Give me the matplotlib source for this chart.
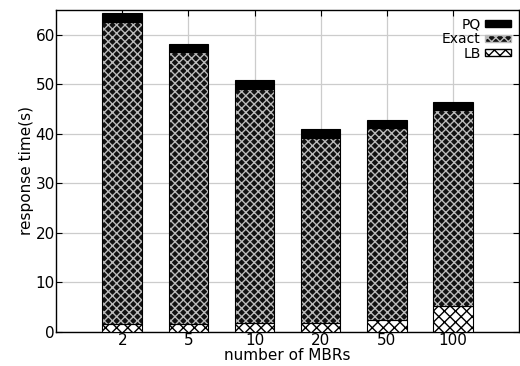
import matplotlib
matplotlib.use("Agg")
import matplotlib.pyplot as plt
from matplotlib.patches import Patch
import numpy as np

plt.rcParams['font.family'] = ['DejaVu Sans']
plt.rcParams['hatch.linewidth'] = 1.0

mbrs = ["2", "5", "10", "20", "50", "100"]
lb = [1.55, 1.55, 1.8, 1.8, 2.5, 5.3]
exact_top = [62.5, 56.4, 49.1, 39.2, 41.2, 44.7]
pq_top = [64.4, 58.1, 50.9, 41.0, 42.8, 46.5]

lb = np.array(lb)
exact = np.array(exact_top) - lb
pq = np.array(pq_top) - np.array(exact_top)
x = np.arange(1, len(mbrs) + 1)
w = 0.6

fig = plt.figure(figsize=(5.2, 3.66), dpi=100)
ax = fig.add_axes([0.108, 0.093, 0.89, 0.88])

ax.bar(x, lb, w, color="white", edgecolor="black", hatch="xxx", lw=0.8, zorder=3)
ax.bar(x, exact, w, bottom=lb, color="#111111", edgecolor="#bbbbbb", hatch="xxxx", lw=0, zorder=3)
ax.bar(x, exact, w, bottom=lb, fill=False, edgecolor="black", lw=0.8, zorder=4)
ax.bar(x, pq, w, bottom=lb + exact, color="black", edgecolor="black", lw=0.8, zorder=3)

# legend proxies, in the order shown
handles = [Patch(facecolor="black", edgecolor="black", label="PQ"),
           Patch(facecolor="#111111", edgecolor="#bbbbbb", hatch="xxxx", label="Exact"),
           Patch(facecolor="white", edgecolor="black", hatch="xxx", label="LB")]
ax.legend(handles=handles, loc="upper right", markerfirst=False, frameon=False,
          fontsize=10, handlelength=1.9, handleheight=0.4, labelspacing=0.05,
          handletextpad=0.3, borderaxespad=0.15)

ax.set_xlim(0, 7)
ax.set_ylim(0, 65)
ax.set_xticks(x)
ax.set_xticklabels(mbrs)
ax.set_yticks(np.arange(0, 61, 10))
ax.grid(True, color="#cccccc", lw=0.9, zorder=0)
ax.set_axisbelow(True)
ax.tick_params(direction="in", top=True, right=True, labelsize=11, length=4, pad=1)
ax.set_xlabel("number of MBRs", fontsize=11, labelpad=0)
ax.set_ylabel("response time(s)", fontsize=11, labelpad=1)
for s in ax.spines.values():
    s.set_linewidth(1.0)

fig.savefig("out.png", dpi=100)
